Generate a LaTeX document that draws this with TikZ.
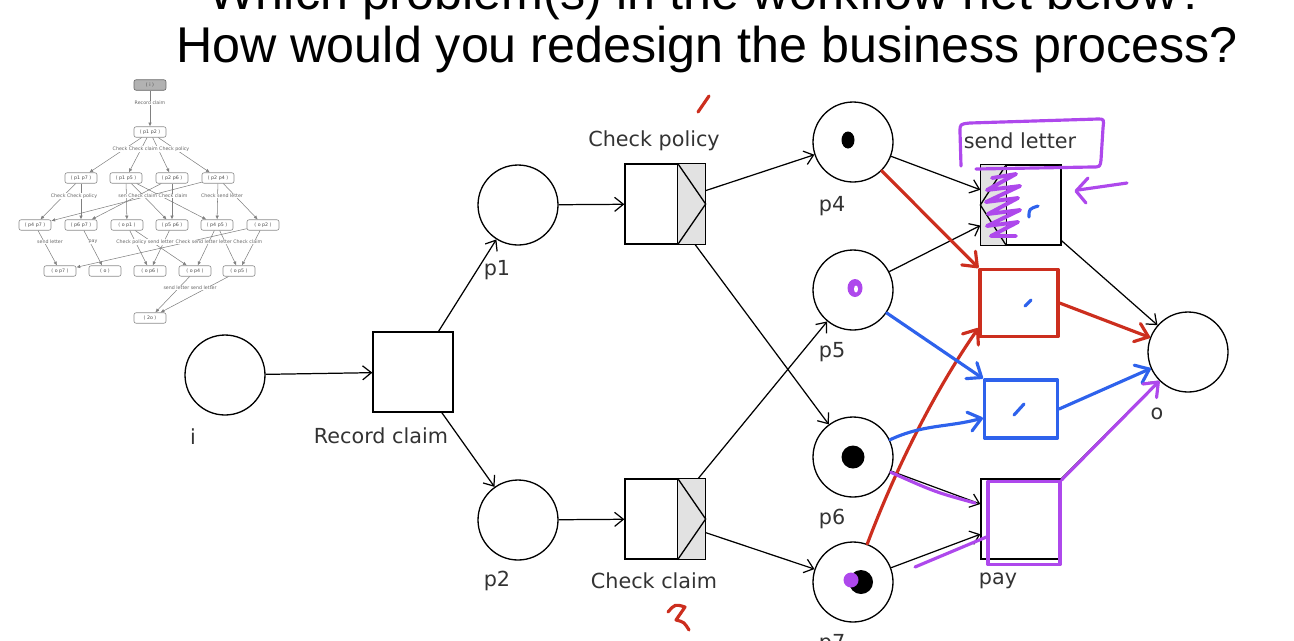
\documentclass[tikz,border=0pt]{standalone}
\usepackage{fontspec}
\setmainfont{DejaVu Sans}
\newfontfamily\slidefont{Liberation Sans}
\usetikzlibrary{arrows.meta}
\definecolor{penred}{RGB}{204,46,30}
\definecolor{penblue}{RGB}{46,98,236}
\definecolor{penpurple}{RGB}{174,72,236}
\definecolor{stripgray}{RGB}{226,226,226}
\newcommand{\wfplace}[3]{
	\node [place] (#1) at (#2) {};
	\node [wflabel] (#1-label) at (#3) {#1};}
\newcommand{\wftask}[4]{
	\node [task] (#1) at (#2) {};
	\node [wflabel] (#1-label) at (#3) {#4};}
\newcommand{\xorsplit}[1]{
	\draw [strip, fill=stripgray] ([xshift=-0.56cm]#1.north east) rectangle (#1.south east);
	\draw [strip] ([xshift=-0.56cm]#1.north east) -- (#1.east) -- ([xshift=-0.56cm]#1.south east);}
\newcommand{\xorjoin}[1]{
	\draw [strip, fill=stripgray] (#1.north west) rectangle ([xshift=0.52cm]#1.south west);
	\draw [strip] ([xshift=0.52cm]#1.north west) -- (#1.west) -- ([xshift=0.52cm]#1.south west);}

\begin{document}
\begin{tikzpicture}[x=0.02cm, y=-0.02cm,
	place/.style={draw, circle, minimum size=1.6cm, inner sep=0pt, line width=0.75pt},
	task/.style={draw, rectangle, minimum size=1.6cm, inner sep=0pt, line width=0.75pt},
	strip/.style={line width=0.75pt},
	wflabel/.style={font=\fontsize{11.8}{14}\selectfont, text=black!80},
	arc/.style={-{Straight Barb[length=5pt,width=8pt]}, line width=0.7pt},
	pen/.style={line width=1.8pt, line cap=round, line join=round},
	penarrow/.style={-{Straight Barb[length=7pt,width=11pt,round]}},
	rgstate/.style={draw=black!45, rounded corners=1.2pt, minimum width=0.64cm, minimum height=0.21cm, inner sep=0pt, line width=0.35pt, font=\fontsize{2.7}{3}\selectfont, text=black!70},
	rgedge/.style={draw=black!50, line width=0.3pt, -{Latex[length=2.2pt,width=2pt]}},
	rglabel/.style={font=\fontsize{2.7}{3}\selectfont, text=black!60}]
	\useasboundingbox (0,0) rectangle (1294,640);
	\clip (0,0) rectangle (1294,640);
	\node [font=\slidefont\fontsize{28.6}{34}\selectfont, anchor=base] (question) at (707,9) {Which problem(s) in the workflow net below?};
	\node [font=\slidefont\fontsize{28.6}{34}\selectfont, anchor=base] (redesign) at (707,62) {How would you redesign the business process?};

	% reachability graph
	\node [rgstate, fill=black!30, draw=black!60] (rgi) at (150,85) {( i )};
	\node [rgstate] (rgp1p2) at (150,132) {( p1 p2 )};
	\node [rgstate] (rgp1p7) at (81,178) {( p1 p7 )};
	\node [rgstate] (rgp1p5) at (126,178) {( p1 p5 )};
	\node [rgstate] (rgp2p6) at (172,178) {( p2 p6 )};
	\node [rgstate] (rgp2p4) at (218,178) {( p2 p4 )};
	\node [rgstate] (rgp4p7) at (35,225) {( p4 p7 )};
	\node [rgstate] (rgp6p7) at (81,225) {( p6 p7 )};
	\node [rgstate] (rgop1) at (127,225) {( o p1 )};
	\node [rgstate] (rgp5p6) at (172,225) {( p5 p6 )};
	\node [rgstate] (rgp4p5) at (217,225) {( p4 p5 )};
	\node [rgstate] (rgop2) at (263,225) {( o p2 )};
	\node [rgstate] (rgop7) at (60,271) {( o p7 )};
	\node [rgstate] (rgo) at (105,271) {( o )};
	\node [rgstate] (rgop6) at (150,271) {( o p6 )};
	\node [rgstate] (rgop4) at (195,271) {( o p4 )};
	\node [rgstate] (rgop5) at (239,271) {( o p5 )};
	\node [rgstate] (rgoo) at (150,318) {( 2o )};
	\draw [rgedge] (rgi) -- (rgp1p2);
	\draw [rgedge] (rgp1p2) -- (rgp1p7);
	\draw [rgedge] (rgp1p2) -- (rgp1p5);
	\draw [rgedge] (rgp1p2) -- (rgp2p6);
	\draw [rgedge] (rgp1p2) -- (rgp2p4);
	\draw [rgedge] (rgp1p7) -- (rgp4p7);
	\draw [rgedge] (rgp1p7) -- (rgp6p7);
	\draw [rgedge] (rgp1p5) -- (rgop1);
	\draw [rgedge] (rgp1p5) -- (rgp5p6);
	\draw [rgedge] (rgp1p5) -- (rgp4p5);
	\draw [rgedge] (rgp2p6) -- (rgp6p7);
	\draw [rgedge] (rgp2p6) -- (rgp5p6);
	\draw [rgedge] (rgp2p4) -- (rgp4p7);
	\draw [rgedge] (rgp2p4) -- (rgp4p5);
	\draw [rgedge] (rgp2p4) -- (rgop2);
	\draw [rgedge] (rgp4p7) -- (rgop7);
	\draw [rgedge] (rgp6p7) -- (rgo);
	\draw [rgedge] (rgop1) -- (rgop6);
	\draw [rgedge] (rgop1) -- (rgop4);
	\draw [rgedge] (rgp5p6) -- (rgop6);
	\draw [rgedge] (rgp4p5) -- (rgop4);
	\draw [rgedge] (rgp4p5) -- (rgop5);
	\draw [rgedge] (rgop2) -- (rgop5);
	\draw [rgedge] (rgop2) -- (rgop7);
	\draw [rgedge] (rgop4) -- (rgoo);
	\draw [rgedge] (rgop5) -- (rgoo);
	\node [rglabel, fill=white, inner sep=0.3pt] (rgl1) at (150,103) {Record claim};
	\node [rglabel, fill=white, inner sep=0.3pt] (rgl2) at (151,149) {Check Check claim Check policy};
	\node [rglabel, fill=white, inner sep=0.3pt] (rgl3) at (74,196) {Check Check policy};
	\node [rglabel, fill=white, inner sep=0.3pt] (rgl4) at (153,196) {sen Check claim Check claim};
	\node [rglabel, fill=white, inner sep=0.3pt] (rgl5) at (222,196) {Check send letter};
	\node [rglabel, fill=white, inner sep=0.3pt] (rgl6) at (50,242) {send letter};
	\node [rglabel, fill=white, inner sep=0.3pt] (rgl7) at (93,242) {pay};
	\node [rglabel, fill=white, inner sep=0.3pt] (rgl8) at (145,242) {Check policy send letter};
	\node [rglabel, fill=white, inner sep=0.3pt] (rgl9) at (219,242) {Check send letter letter Check claim};
	\node [rglabel, fill=white, inner sep=0.3pt] (rgl10) at (190,288) {send letter send letter};

	% workflow net
	\wfplace{i}{225,375}{193,437}
	\wfplace{p1}{518,205}{497,270}
	\wfplace{p2}{518,520}{497,581}
	\wfplace{p4}{853,142}{832,206}
	\wfplace{p5}{853,290}{832,352}
	\wfplace{p6}{853,457}{832,519}
	\wfplace{p7}{853,582}{832,644}
	\wfplace{o}{1188,352}{1157,414}
	\wftask{record}{413,372}{381,436}{Record claim}
	\wftask{policy}{665,204}{654,141}{Check policy}
	\wftask{claim}{665,519}{654,581}{Check claim}
	\wftask{letter}{1021,205}{1020,141}{send letter}
	\wftask{pay}{1021,519}{998,581}{pay}
	\xorsplit{policy}
	\xorsplit{claim}
	\xorjoin{letter}
	\draw [arc] (i) -- (record);
	\draw [arc] (record) -- (p1);
	\draw [arc] (record) -- (p2);
	\draw [arc] (p1) -- (policy);
	\draw [arc] (p2) -- (claim);
	\draw [arc] (policy) -- (p4);
	\draw [arc] (policy) -- (p6);
	\draw [arc] (claim) -- (p5);
	\draw [arc] (claim) -- (p7);
	\draw [arc] (p4) -- (letter);
	\draw [arc] (p5) -- (letter);
	\draw [arc] (p6) -- (pay);
	\draw [arc] (p7) -- (pay);
	\draw [arc] (letter) -- (o);
	\draw [arc] (pay) -- (o);
	\fill ([xshift=-0.1cm,yshift=0.04cm]p4.center) ellipse [x radius=0.13cm, y radius=0.17cm];
	\fill (p6.center) circle [radius=0.23cm];
	\fill ([xshift=0.16cm]p7.center) circle [radius=0.24cm];

	% pen annotations
	\fill [penpurple] ([xshift=-0.04cm,yshift=0.04cm]p7.center) circle [radius=0.15cm];
	\fill [penpurple] ([xshift=0.04cm,yshift=0.04cm]p5.center) ellipse [x radius=0.15cm, y radius=0.18cm];
	\fill [white] ([xshift=0.06cm,yshift=0.02cm]p5.center) ellipse [x radius=0.04cm, y radius=0.07cm];
	\node [pen, draw=penred, minimum width=1.56cm, minimum height=1.34cm] (redbox) at (1019,303) {};
	\node [pen, draw=penblue, minimum width=1.46cm, minimum height=1.16cm] (bluebox) at (1021,409) {};
	\node [pen, draw=penpurple, minimum width=1.44cm, minimum height=1.66cm] (paymark) at (1024,523) {};
	\draw [pen, penred, penarrow] (p4) -- (redbox.north west);
	\draw [pen, penred, penarrow] (redbox.east) -- (o);
	\draw [pen, penred, penarrow] (p7) .. controls (895,470) and (935,390) .. ([yshift=0.2cm]redbox.south west);
	\draw [pen, penblue, penarrow] (p5) -- (bluebox.north west);
	\draw [pen, penblue, penarrow] (p6) to [out=25, in=195] ([yshift=-0.18cm]bluebox.west);
	\draw [pen, penblue, penarrow] (bluebox.east) -- (o);
	\draw [pen, penpurple, penarrow] (paymark.north east) -- (o);
	\draw [pen, penpurple] (p6.-22) .. controls (935,492) .. (975,503);
	\draw [pen, penpurple] (915,567) -- ([yshift=-0.28cm]paymark.west);
	\draw [pen, penpurple] (961,166) -- (960,132) .. controls (960,124) .. (970,123) -- (1098,119) .. controls (1104,119) .. (1103,128) -- (1101,160) .. controls (1100,167) .. (1092,167) -- (976,169);
	\draw [pen, penpurple, line width=2.2pt] (992,178) -- (1016,174) -- (987,190) -- (1020,186) -- (986,202) -- (1018,198) -- (988,214) -- (1020,210) -- (987,226) -- (1018,222) -- (991,236) -- (1016,236);
	\draw [pen, penpurple] (1127,183) -- (1078,190);
	\draw [pen, penpurple] (1088,178) -- (1076,191) -- (1086,203);
	\draw [pen, penred] (698,112) -- (709,96);
	\draw [pen, penred] (668,612) .. controls (675,604) .. (685,607) -- (676,620) .. controls (684,622) .. (689,630);
	\draw [pen, penblue] (1029,217) .. controls (1029,209) .. (1038,206);
	\draw [pen, penblue] (1025,306) -- (1031,300);
	\draw [pen, penblue] (1014,415) -- (1024,404);
\end{tikzpicture}
\end{document}
